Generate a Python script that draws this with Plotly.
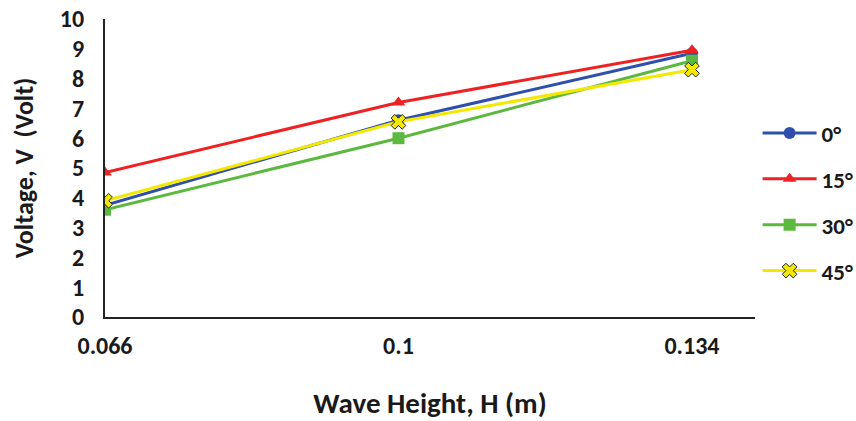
import plotly.graph_objects as go

wave_height = [0.066, 0.1, 0.134]
tick_labels = ["0.066", "0.1", "0.134"]
series_names = ["0°", "15°", "30°", "45°"]
v_0 = [3.75, 6.6, 8.85]
v_15 = [4.85, 7.2, 8.95]
v_30 = [3.6, 6.0, 8.6]
v_45 = [3.9, 6.55, 8.3]

colors = ["#2F4FAD", "#EE2222", "#5CB83F", "#F2E800"]
symbols = ["circle", "triangle-up", "square", "x"]
values = [v_0, v_15, v_30, v_45]

font_fam = "Carlito, Liberation Sans, Arial, sans-serif"
txt = "#1a1a1a"

fig = go.Figure()
for i, (name, vals) in enumerate(zip(series_names, values)):
    mline = dict(color="#222222", width=1) if symbols[i] == "x" else dict(width=0)
    fig.add_trace(go.Scatter(
        x=wave_height, y=vals, name=name, mode="lines+markers",
        line=dict(color=colors[i], width=3),
        marker=dict(symbol=symbols[i], size=12 if symbols[i] != "x" else 13,
                    color=colors[i], line=mline),
        legendgroup=f"g{i}",
    ))

fig.update_layout(
    width=856, height=421,
    margin=dict(l=105, r=101, t=19, b=104, autoexpand=False),
    paper_bgcolor="white", plot_bgcolor="white",
    font=dict(family=font_fam, size=22, color=txt),
    showlegend=True,
    legend=dict(x=1.004, y=0.386, xanchor="left", yanchor="middle",
                traceorder="grouped", tracegroupgap=13,
                font=dict(family=font_fam, size=23, color=txt, weight="bold"),
                itemwidth=54, bgcolor="rgba(0,0,0,0)", borderwidth=0),
    xaxis=dict(range=[0.066, 0.1413], tickvals=wave_height, ticktext=tick_labels,
               showgrid=False, zeroline=False, showline=True, linecolor="#222222",
               linewidth=2, ticks="", ticklabelstandoff=6, automargin=False,
               tickfont=dict(family=font_fam, size=24, color=txt, weight="bold"),
               title=dict(text="<b>Wave Height, H (m)</b>", standoff=41,
                          font=dict(family=font_fam, size=29, color=txt))),
    yaxis=dict(range=[0, 10], dtick=1, showgrid=False, zeroline=False,
               showline=True, linecolor="#222222", linewidth=2, ticks="",
               ticklabelstandoff=14, automargin=False,
               tickfont=dict(family=font_fam, size=24, color=txt, weight="bold"),
               title=dict(text="<b>Voltage, V  (Volt)</b>", standoff=19,
                          font=dict(family=font_fam, size=26, color=txt))),
)

fig.write_html("out.html", config={"displayModeBar": False},
               post_script="document.body.style.margin='0';")
